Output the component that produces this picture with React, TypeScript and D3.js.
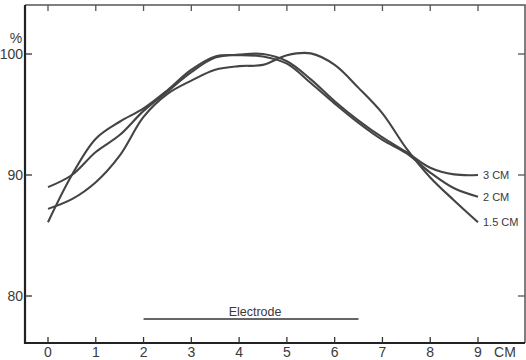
import React from 'react';
import * as d3 from 'd3';

// distance along the electrode axis (cm)
const positions = [0, 0.5, 1, 1.5, 2, 2.5, 3, 3.5, 4, 4.5, 5, 5.5, 6, 6.5, 7, 7.5, 8, 8.5, 9];

// relative response (%) for each depth
const depth3 = [89.0, 90.0, 91.9, 93.3, 95.3, 96.9, 98.5, 99.7, 99.95, 100.0, 99.4, 97.9, 96.1, 94.5, 93.1, 91.9, 90.6, 90.05, 90.0];
const depth2 = [86.1, 90.0, 93.0, 94.4, 95.5, 97.0, 98.7, 99.8, 99.9, 99.8, 99.2, 97.6, 95.9, 94.3, 92.9, 91.8, 90.2, 88.9, 88.2];
const depth15 = [87.2, 88.0, 89.4, 91.6, 94.8, 96.7, 97.8, 98.7, 99.0, 99.1, 99.9, 100.05, 99.1, 97.2, 95.1, 92.2, 89.8, 87.9, 86.1];

const seriesLabels = ['3 CM', '2 CM', '1.5 CM'];
const xTicks = [0, 1, 2, 3, 4, 5, 6, 7, 8, 9];
const yTicks = [80, 90, 100];
const electrode = [2, 6.5];

const App = () => {
    const width = 526;
    const height = 360;
    const frame = { left: 25, right: 525, top: 5, bottom: 343 };

    const x = d3.scaleLinear().domain([0, 9]).range([48, 478]);
    const y = d3.scaleLinear().domain([80, 100]).range([296, 54]);

    const line = d3.line<number>()
        .x((_, i) => x(positions[i]))
        .y(d => y(d))
        .curve(d3.curveCatmullRom.alpha(0.5));

    const series = [depth3, depth2, depth15];
    const font = '"Liberation Sans Narrow", "Liberation Sans", Arial, sans-serif';
    const ink = '#3a3a3a';

    return (
        <svg width={width} height={height}
            style={{ position: 'absolute', left: 0, top: 0, background: '#fff' }}
            fontFamily={font}>
            {/* frame */}
            <path d={`M${frame.left},${frame.top}H${frame.right}V${frame.bottom}`}
                fill="none" stroke="#555" strokeWidth={1.5} />
            <line x1={frame.left} x2={frame.left} y1={frame.top} y2={frame.bottom + 1}
                stroke="#222" strokeWidth={2.2} />
            <line x1={frame.left - 1} x2={frame.right} y1={frame.bottom} y2={frame.bottom}
                stroke="#222" strokeWidth={2.2} />

            {/* x ticks, bottom and top */}
            {xTicks.map(t => (
                <g key={`x${t}`}>
                    <line x1={x(t)} x2={x(t)} y1={frame.bottom} y2={frame.bottom - 6} stroke="#333" strokeWidth={1.3} />
                    <line x1={x(t)} x2={x(t)} y1={frame.top} y2={frame.top + 6} stroke="#555" strokeWidth={1.3} />
                    <text x={x(t)} y={357} textAnchor="middle" fontSize={14} fill={ink}>{t}</text>
                </g>
            ))}
            <text x={505} y={357} textAnchor="middle" fontSize={14} fill={ink}>CM</text>

            {/* y ticks, left and right */}
            {yTicks.map(t => (
                <g key={`y${t}`}>
                    <line x1={frame.left} x2={frame.left + 7} y1={y(t)} y2={y(t)} stroke="#333" strokeWidth={1.3} />
                    <line x1={frame.right} x2={frame.right - 7} y1={y(t)} y2={y(t)} stroke="#555" strokeWidth={1.3} />
                    <text x={23} y={y(t) + 5} textAnchor="end" fontSize={14} fill={ink}>{t}</text>
                </g>
            ))}
            <text x={16} y={43} textAnchor="middle" fontSize={14} fill={ink}>%</text>

            {/* response curves */}
            {series.map((s, i) => (
                <path key={seriesLabels[i]} d={line(s) ?? ''} fill="none" stroke="#444" strokeWidth={2.1} />
            ))}
            {series.map((s, i) => (
                <text key={`l${i}`} x={x(9) + 5} y={y(s[s.length - 1]) + 4} fontSize={11} fill={ink}>
                    {seriesLabels[i]}
                </text>
            ))}

            {/* electrode extent */}
            <line x1={x(electrode[0])} x2={x(electrode[1])} y1={y(78.1)} y2={y(78.1)} stroke="#333" strokeWidth={1.5} />
            <text x={(x(electrode[0]) + x(electrode[1])) / 2 + 4} y={316} textAnchor="middle" fontSize={12.5}
                fontFamily='"Liberation Sans", Arial, sans-serif' fill={ink}>Electrode</text>
        </svg>
    );
};

export default App;
